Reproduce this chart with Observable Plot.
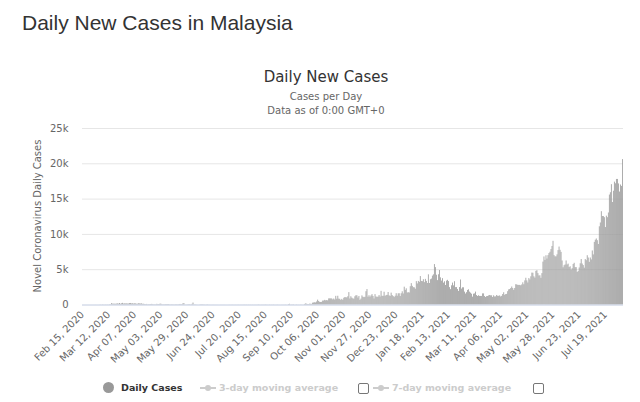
<!DOCTYPE html>
<html>
<head>
<meta charset="utf-8">
<script src="https://cdn.jsdelivr.net/npm/d3@7"></script>
<script src="https://cdn.jsdelivr.net/npm/@observablehq/plot@0.6"></script>
<style>
  html, body { margin: 0; padding: 0; background: #fff; }
  #page { position: relative; width: 640px; height: 402px; overflow: hidden; background: #fff; }
  .abs { position: absolute; white-space: nowrap; }
  #title { left: 22px; top: 12px; font: 21px/21px "Liberation Sans", Arial, sans-serif; color: #333; }
  .center { left: 6px; width: 640px; text-align: center; font-family: "DejaVu Sans", sans-serif; }
  #ctitle { top: 70px; font-size: 15px; line-height: 15px; color: #333; }
  #sub1 { top: 92px; font-size: 10px; line-height: 10px; color: #666; }
  #sub2 { top: 106px; font-size: 10px; line-height: 10px; color: #666; }
  #ylabel { left: 38px; top: 216px; transform: translate(-50%, -50%) rotate(-90deg); font: 10px/10px "DejaVu Sans", sans-serif; color: #666; }
  #chart { position: absolute; left: 0; top: 120px; }
  .leg { font: bold 9.5px/10px "DejaVu Sans", sans-serif; top: 383px; }
  .dot { width: 11px; height: 11px; border-radius: 50%; background: #999; top: 382px; }
  .sym { top: 383px; width: 16px; height: 10px; }
  .box { width: 9px; height: 9px; border: 1px solid #777; border-radius: 2px; top: 383px; background: #fff; }
</style>
</head>
<body>
<div id="page">
  <div id="title" class="abs">Daily New Cases in Malaysia</div>
  <div id="ctitle" class="abs center">Daily New Cases</div>
  <div id="sub1" class="abs center">Cases per Day</div>
  <div id="sub2" class="abs center">Data as of 0:00 GMT+0</div>
  <div id="ylabel" class="abs">Novel Coronavirus Daily Cases</div>
  <div id="chart"></div>
  <div class="abs dot" style="left:103px"></div>
  <div class="abs leg" style="left:121px;color:#333">Daily Cases</div>
  <svg class="abs sym" style="left:200px" viewBox="0 0 16 10"><line x1="0" y1="5" x2="16" y2="5" stroke="#ccc" stroke-width="2"/><circle cx="8" cy="5" r="3" fill="#ccc"/></svg>
  <div class="abs leg" style="left:219px;color:#ccc">3-day moving average</div>
  <div class="abs box" style="left:358px"></div>
  <svg class="abs sym" style="left:373px" viewBox="0 0 16 10"><line x1="0" y1="5" x2="16" y2="5" stroke="#ccc" stroke-width="2"/><circle cx="8" cy="5" r="3" fill="#ccc"/></svg>
  <div class="abs leg" style="left:392px;color:#ccc">7-day moving average</div>
  <div class="abs box" style="left:533px"></div>
</div>
<script>
// Daily new cases, Feb 15 2020 – Dec 31 2020
const startDate = "2020-02-15";
const cases2020 = [
  0,1,0,0,0,0,0,0,0,0,0,0,1,2,0,
  0,0,7,14,5,28,10,6,18,12,20,9,39,41,190,125,120,117,110,130,153,123,212,106,172,235,130,159,150,156,140,
  142,208,217,150,179,131,170,156,109,118,184,153,134,170,85,110,69,54,84,36,57,50,71,88,51,38,40,31,94,57,
  69,105,122,55,30,45,39,68,54,67,70,16,37,40,36,17,22,47,37,31,50,78,48,60,172,187,15,10,30,38,57,
  38,20,93,277,19,37,19,7,7,2,31,33,41,17,22,8,8,41,10,14,6,4,3,10,4,5,4,6,1,2,
  3,3,7,3,6,2,2,1,4,7,6,3,15,6,6,7,3,6,11,6,7,8,8,9,19,7,14,2,16,6,11,
  5,10,2,8,6,9,12,25,12,3,11,12,12,10,22,12,8,5,17,4,9,7,20,3,2,7,14,4,5,1,7,
  6,6,7,14,2,3,62,100,13,24,23,33,1,6,26,8,12,8,20,14,6,11,82,147,111,76,65,115,101,89,
  260,287,317,293,432,691,489,374,354,374,561,563,660,589,629,589,869,871,865,862,732,847,710,1228,823,1240,835,801,649,799,659,
  957,1054,1032,1009,1168,1755,852,1168,972,869,822,1165,1309,1304,993,1208,659,833,1290,1103,1041,1096,1884,2188,1109,1315,1109,1290,1472,1212,
  851,1472,1141,1075,1123,1335,1123,1937,1229,1231,1810,1220,1340,1371,1772,1295,1220,1683,1340,1208,1054,1240,1600,1247,1581,1596,1196,1594,1870,1559,2525
];
// Daily new cases, Jan 1 2021 – Aug 5 2021
const cases2021 = [
  2068,2295,1704,1741,1704,2593,3027,2643,2451,2433,2232,3309,2985,3337,3211,4029,3339,3306,3585,3170,3631,3346,3048,4275,3048,3585,3680,4094,4275,5728,5298,
  4214,3455,4284,4885,3847,3391,3731,3100,3288,2764,3384,3499,3318,2464,2176,2720,3107,2712,3297,2461,2468,2192,1924,2468,3545,2253,2437,2437,
  1828,1555,1745,2063,2154,1828,1680,1529,1114,1529,1575,1828,1340,1208,1309,1219,1213,1213,1575,1575,1208,1063,1185,1208,1290,1349,1302,1302,1067,1302,1139,
  1156,1349,1239,1230,1291,1139,1226,1478,1735,1382,1473,1503,1889,2148,2195,2331,2551,2340,2078,2341,2875,2847,2776,2776,2776,2716,2848,3142,2875,3418,
  3788,3418,3120,3744,3551,3995,4519,4498,3995,3807,4765,4855,4446,4113,4140,3780,4446,6075,6806,6320,6976,6509,6993,7289,7478,7857,8290,9020,6999,6824,6824,
  7105,7703,8209,7748,7452,6241,5271,5566,5671,6239,5671,5793,5304,5419,4949,5150,5738,5911,5293,5293,4611,4743,5244,5841,6440,5803,5586,5218,6437,6276,
  6982,6658,6045,6658,6387,7654,7097,8868,9180,9353,9105,8574,11079,11618,13215,12541,12528,12366,10972,12584,12366,13034,15573,15902,17045,14516,16117,17405,17170,17786,17786,
  17150,16000,17000,16800,20596
];
const xTickDates = ["2020-02-15","2020-03-12","2020-04-07","2020-05-03","2020-05-29","2020-06-24","2020-07-20",
  "2020-08-15","2020-09-10","2020-10-06","2020-11-01","2020-11-27","2020-12-23","2021-01-18","2021-02-13",
  "2021-03-11","2021-04-06","2021-05-02","2021-05-28","2021-06-23","2021-07-19"];
const yTicks = [0, 5000, 10000, 15000, 20000, 25000];

const start = new Date(startDate + "T00:00:00Z");
const values = cases2020.concat(cases2021);
const data = values.map((v, i) => ({date: d3.utcDay.offset(start, i), value: v}));
const end = d3.utcDay.offset(start, values.length);
const xTicks = xTickDates.map(s => new Date(s + "T00:00:00Z"));

const chart = Plot.plot({
  width: 640,
  height: 258,
  marginLeft: 82,
  marginRight: 17,
  marginTop: 8,
  marginBottom: 73.5,
  style: {fontFamily: "DejaVu Sans", fontSize: "10px", color: "#666", background: "transparent"},
  x: {type: "utc", domain: [start, end]},
  y: {domain: [0, 25000]},
  marks: [
    Plot.gridY(yTicks, {stroke: "#e6e6e6", strokeOpacity: 1}),
    Plot.rectY(data, {x1: "date", x2: d => d3.utcDay.offset(d.date, 1), y: "value", fill: "#999", insetRight: 0.2}),
    Plot.ruleY([0], {stroke: "#ccd6eb"}),
    Plot.axisY(yTicks, {tickSize: 0, tickPadding: 14, label: null, fill: "#666",
      tickFormat: d => d === 0 ? "0" : (d / 1000) + "k"}),
    Plot.axisX(xTicks, {tickSize: 0, tickPadding: 8, tickRotate: -45, label: null, fill: "#666",
      tickFormat: d3.utcFormat("%b %d, %Y")})
  ]
});
document.getElementById("chart").appendChild(chart);
</script>
</body>
</html>
